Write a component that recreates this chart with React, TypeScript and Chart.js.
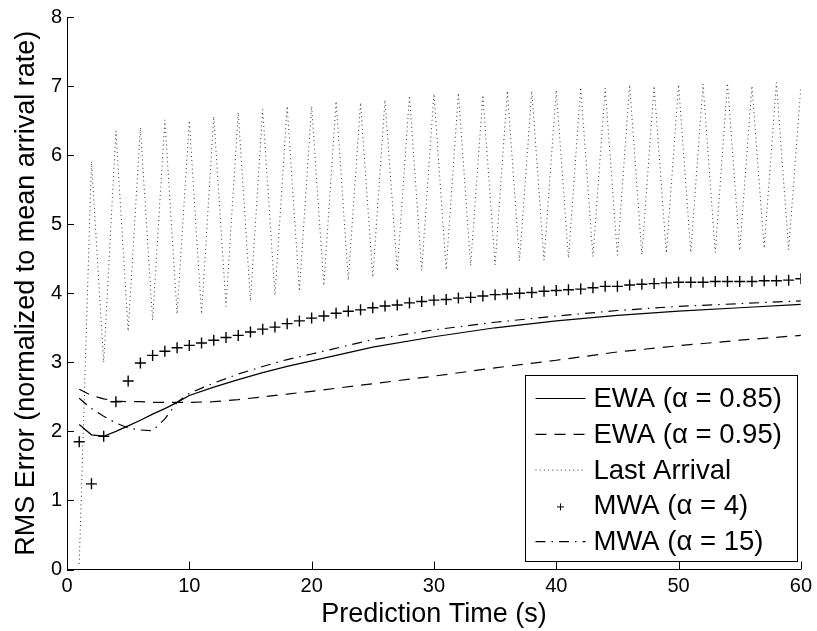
import React, { useEffect, useRef } from 'react';
import { Chart, registerables } from 'chart.js';

Chart.register(...registerables);

// ---------- data ----------
const predictionTimes = [
  1, 2, 3, 4, 5, 6, 7, 8, 9, 10, 11, 12, 13, 14, 15, 16, 17, 18, 19, 20,
  21, 22, 23, 24, 25, 26, 27, 28, 29, 30, 31, 32, 33, 34, 35, 36, 37, 38, 39, 40,
  41, 42, 43, 44, 45, 46, 47, 48, 49, 50, 51, 52, 53, 54, 55, 56, 57, 58, 59, 60,
];

const lastArrival = [
  0.08, 5.91, 3.0, 6.35, 3.45, 6.4, 3.61, 6.51, 3.7, 6.5,
  3.7, 6.56, 3.81, 6.62, 3.89, 6.66, 3.97, 6.71, 4.03, 6.71,
  4.11, 6.78, 4.19, 6.76, 4.23, 6.8, 4.32, 6.86, 4.33, 6.89,
  4.34, 6.9, 4.4, 6.87, 4.41, 6.93, 4.47, 6.93, 4.48, 6.94,
  4.51, 6.98, 4.53, 6.97, 4.55, 7.02, 4.56, 7.0, 4.58, 7.02,
  4.59, 7.03, 4.59, 7.04, 4.62, 7.0, 4.65, 7.05, 4.63, 6.99,
];

const mwa4 = [
  1.85, 1.24, 1.93, 2.43, 2.73, 2.99, 3.1, 3.16, 3.21, 3.245,
  3.28, 3.32, 3.36, 3.39, 3.44, 3.48, 3.51, 3.56, 3.6, 3.64,
  3.67, 3.71, 3.74, 3.76, 3.79, 3.815, 3.83, 3.86, 3.88, 3.9,
  3.91, 3.93, 3.94, 3.96, 3.98, 3.99, 4.0, 4.01, 4.03, 4.04,
  4.05, 4.06, 4.08, 4.1, 4.1, 4.12, 4.13, 4.14, 4.15, 4.16,
  4.16, 4.16, 4.17, 4.17, 4.17, 4.17, 4.18, 4.18, 4.19, 4.21,
];

const lineTimes = [1, 2, 3, 4, 5, 6, 7, 8, 9, 10, 12, 14, 16, 18, 20, 25, 30, 35, 40, 45, 50, 55, 60];

const ewa085 = [2.1, 1.95, 1.93, 2.0, 2.08, 2.16, 2.25, 2.33, 2.42, 2.52, 2.64, 2.75, 2.85, 2.94, 3.02, 3.22, 3.37, 3.5, 3.6, 3.68, 3.74, 3.79, 3.84];
const ewa095 = [2.61, 2.52, 2.47, 2.44, 2.43, 2.43, 2.42, 2.42, 2.42, 2.42, 2.43, 2.46, 2.5, 2.54, 2.58, 2.69, 2.8, 2.92, 3.03, 3.15, 3.24, 3.32, 3.39];
const mwa15 = [2.48, 2.33, 2.22, 2.12, 2.05, 2.02, 2.01, 2.18, 2.42, 2.55, 2.7, 2.83, 2.94, 3.04, 3.12, 3.33, 3.47, 3.58, 3.67, 3.75, 3.81, 3.85, 3.89];

const seriesNames = ['EWA (α = 0.85)', 'EWA (α = 0.95)', 'Last Arrival', 'MWA (α = 4)', 'MWA (α = 15)'];

const xTickValues = [0, 10, 20, 30, 40, 50, 60];
const yTickValues = [0, 1, 2, 3, 4, 5, 6, 7, 8];

const xTitle = 'Prediction Time (s)';
const yTitle = 'RMS Error (normalized to mean arrival rate)';

// ---------- helpers ----------
const toPoints = (xs: number[], ys: number[]) => xs.map((x, i) => ({ x, y: ys[i] }));

const FONT = '"Liberation Sans", Arial, Helvetica, sans-serif';

const innerTicks = {
  id: 'innerTicks',
  afterDraw(chart: any) {
    const { ctx, chartArea, scales } = chart;
    ctx.save();
    ctx.strokeStyle = '#000';
    ctx.lineWidth = 1;
    ctx.beginPath();
    xTickValues.forEach((v) => {
      const px = Math.round(scales.x.getPixelForValue(v)) + 0.5;
      ctx.moveTo(px, chartArea.bottom);
      ctx.lineTo(px, chartArea.bottom - 8);
    });
    yTickValues.forEach((v) => {
      const py = Math.round(scales.y.getPixelForValue(v)) + 0.5;
      ctx.moveTo(chartArea.left, py);
      ctx.lineTo(chartArea.left + 7, py);
    });
    ctx.stroke();
    ctx.restore();
  },
};

const insideLegend = {
  id: 'insideLegend',
  afterDraw(chart: any) {
    const { ctx, chartArea } = chart;
    const w = 272;
    const h = 186;
    const x0 = Math.round(chartArea.right - 4 - w) + 0.5;
    const y0 = Math.round(chartArea.bottom - 9 - h) + 0.5;
    ctx.save();
    ctx.fillStyle = '#fff';
    ctx.fillRect(x0, y0, w, h);
    ctx.strokeStyle = '#000';
    ctx.lineWidth = 1;
    ctx.setLineDash([]);
    ctx.strokeRect(x0, y0, w, h);

    const rowH = 35.8;
    chart.data.datasets.forEach((ds: any, i: number) => {
      const cy = y0 + 24 + i * rowH;
      const lx1 = x0 + 10;
      const lx2 = x0 + 60;
      ctx.strokeStyle = '#000';
      if (ds.showLine === false) {
        const cx = (lx1 + lx2) / 2;
        ctx.setLineDash([]);
        ctx.lineWidth = 1;
        ctx.beginPath();
        ctx.moveTo(cx - 3.5, cy);
        ctx.lineTo(cx + 3.5, cy);
        ctx.moveTo(cx, cy - 3.5);
        ctx.lineTo(cx, cy + 3.5);
        ctx.stroke();
      } else {
        ctx.setLineDash(ds.borderDash || []);
        ctx.lineWidth = ds.borderWidth;
        ctx.strokeStyle = ds.borderColor;
        ctx.beginPath();
        ctx.moveTo(lx1, cy - 1);
        ctx.lineTo(lx2, cy - 1);
        ctx.stroke();
      }
      ctx.setLineDash([]);
      ctx.fillStyle = '#000';
      ctx.font = `27.5px ${FONT}`;
      ctx.textBaseline = 'middle';
      ctx.textAlign = 'left';
      ctx.fillText(ds.label, x0 + 68, cy);
    });
    ctx.restore();
  },
};

export default function App() {
  const canvasRef = useRef<HTMLCanvasElement | null>(null);

  useEffect(() => {
    document.body.style.margin = '0';
    document.body.style.overflow = 'hidden';
    const canvas = canvasRef.current;
    if (!canvas) return;

    const chart = new Chart(canvas, {
      type: 'line',
      data: {
        datasets: [
          {
            label: seriesNames[0],
            data: toPoints(lineTimes, ewa085),
            borderColor: '#000',
            borderWidth: 1.2,
            pointRadius: 0,
            fill: false,
          },
          {
            label: seriesNames[1],
            data: toPoints(lineTimes, ewa095),
            borderColor: '#000',
            borderWidth: 1.2,
            borderDash: [11, 8],
            pointRadius: 0,
            fill: false,
          },
          {
            label: seriesNames[2],
            data: toPoints(predictionTimes, lastArrival),
            borderColor: '#333',
            borderWidth: 1,
            borderDash: [1, 3.2],
            pointRadius: 0,
            fill: false,
          },
          {
            label: seriesNames[3],
            data: toPoints(predictionTimes, mwa4),
            showLine: false,
            borderColor: '#000',
            backgroundColor: '#000',
            pointStyle: 'cross',
            pointRadius: 5.5,
            pointBorderWidth: 1.4,
            pointBorderColor: '#000',
            fill: false,
          },
          {
            label: seriesNames[4],
            data: toPoints(lineTimes, mwa15),
            borderColor: '#000',
            borderWidth: 1.2,
            borderDash: [10, 6, 1.5, 6],
            pointRadius: 0,
            fill: false,
          },
        ],
      },
      options: {
        responsive: false,
        animation: false,
        devicePixelRatio: 1,
        layout: { padding: { left: 0, top: 15, right: 13, bottom: 0 } },
        plugins: {
          legend: { display: false },
          tooltip: { enabled: false },
        },
        scales: {
          x: {
            type: 'linear',
            min: 0,
            max: 60,
            grid: { display: false, drawTicks: false },
            border: { display: true, color: '#000', width: 1 },
            ticks: {
              stepSize: 10,
              color: '#000',
              padding: 5,
              font: { family: FONT, size: 20 },
              maxRotation: 0,
            },
            title: {
              display: true,
              text: xTitle,
              color: '#000',
              font: { family: FONT, size: 27 },
              padding: { top: 2, bottom: 0 },
            },
            afterFit(scale: any) {
              scale.height = 61.5;
            },
          },
          y: {
            type: 'linear',
            min: 0,
            max: 8,
            grid: { display: false, drawTicks: false },
            border: { display: true, color: '#000', width: 1 },
            ticks: {
              stepSize: 1,
              color: '#000',
              padding: 5,
              font: { family: FONT, size: 20 },
            },
            title: {
              display: true,
              text: yTitle,
              color: '#000',
              font: { family: FONT, size: 27 },
              padding: { top: 10, bottom: 0 },
            },
            afterFit(scale: any) {
              scale.width = 67;
            },
          },
        },
      },
      plugins: [innerTicks, insideLegend],
    });

    return () => {
      chart.destroy();
    };
  }, []);

  return (
    <div style={{ width: 817, height: 631, position: 'relative' }}>
      <canvas ref={canvasRef} width={817} height={631} />
    </div>
  );
}
